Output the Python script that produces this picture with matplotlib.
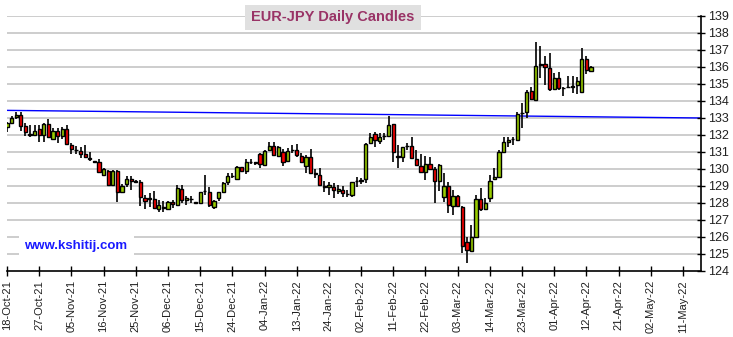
import matplotlib.pyplot as plt
import numpy as np

plt.rcParams['font.family'] = ['Liberation Sans', 'DejaVu Sans']

# daily EUR-JPY candles, one row per weekday from 18-Oct-21
opens = [132.49, 132.73, 133.04, 133.18, 132.53, 132.06, 131.98, 132.33, 132.02, 132.65,
         131.75, 132.26, 131.96, 132.33, 131.39, 131.14, 131.08, 130.86, 130.65, 130.45,
         130.39, 129.65, 129.90, 129.06, 129.88, 128.65, 129.10, 129.43, 129.29, 129.24,
         128.27, 128.27, 128.22, 127.65, 127.75, 127.63, 128.04, 127.88, 128.80, 128.18,
         128.25, 128.04, 127.98, 128.69, 128.67, 127.78, 128.31, 128.63, 129.22, 129.59,
         129.39, 130.10, 129.88, 130.41, 130.37, 130.86, 130.23, 131.10, 131.37, 130.74,
         131.02, 130.45, 131.14, 131.14, 130.77, 130.20, 130.69, 129.75, 129.65, 128.98,
         128.92, 128.96, 128.69, 128.77, 128.53, 128.47, 129.27, 129.31, 129.39, 131.55,
         132.04, 131.67, 131.92, 131.96, 132.63, 130.75, 130.69, 131.35, 131.35, 130.57,
         130.18, 129.80, 130.27, 130.02, 129.28, 128.35, 129.00, 127.80, 128.41, 127.76,
         125.69, 125.17, 126.02, 128.22, 127.63, 128.27, 129.39, 129.55, 131.02, 131.57,
         131.74, 131.71, 133.27, 133.33, 134.59, 134.06, 136.10, 136.20, 135.92, 134.69,
         135.33, 134.76, 134.84, 134.84, 134.94, 134.51, 136.45, 135.78]
highs = [132.79, 133.12, 133.37, 133.33, 132.73, 132.59, 132.59, 132.59, 132.69, 132.94,
         132.39, 132.39, 132.45, 132.59, 131.55, 131.35, 131.31, 131.41, 130.98, 130.49,
         130.57, 130.04, 129.94, 129.94, 129.94, 129.10, 129.59, 129.59, 129.35, 129.35,
         128.47, 128.57, 128.73, 128.18, 128.10, 128.10, 128.20, 129.06, 129.06, 128.41,
         128.41, 128.06, 128.67, 129.65, 128.96, 128.18, 128.67, 129.25, 129.75, 129.75,
         130.18, 130.14, 130.59, 130.57, 130.43, 130.92, 131.12, 131.57, 131.61, 131.35,
         131.18, 131.22, 131.41, 131.45, 130.92, 130.82, 131.16, 130.00, 130.04, 129.29,
         129.25, 129.20, 129.06, 128.98, 128.76, 129.25, 129.51, 129.45, 131.51, 132.10,
         132.20, 132.10, 132.10, 133.14, 132.65, 131.41, 131.31, 131.51, 131.90, 131.12,
         130.88, 130.76, 130.71, 130.14, 130.27, 129.75, 129.26, 128.77, 128.47, 127.82,
         126.02, 126.71, 128.47, 128.86, 128.27, 129.65, 130.04, 131.12, 131.86, 131.86,
         131.90, 133.37, 133.86, 134.65, 134.80, 137.49, 137.25, 136.65, 136.80, 135.67,
         135.73, 134.84, 135.47, 135.47, 135.41, 137.10, 136.65, 136.04]
lows = [132.20, 132.65, 132.92, 132.26, 131.96, 131.90, 131.94, 131.61, 131.61, 131.80,
        131.71, 131.51, 131.75, 131.40, 130.88, 130.88, 130.67, 130.65, 130.49, 130.37,
        129.75, 129.63, 129.00, 129.00, 128.04, 128.57, 128.92, 128.76, 129.20, 127.82,
        127.63, 127.75, 127.63, 127.49, 127.45, 127.60, 127.70, 127.84, 127.98, 127.86,
        127.98, 127.98, 127.92, 128.47, 127.78, 127.65, 128.14, 128.61, 129.06, 129.45,
        129.35, 129.84, 129.69, 130.27, 130.24, 130.04, 130.19, 131.06, 130.78, 130.70,
        130.20, 130.43, 130.96, 130.72, 130.33, 129.79, 129.72, 129.45, 129.02, 128.63,
        128.47, 128.27, 128.55, 128.37, 128.37, 128.37, 128.92, 129.10, 129.20, 131.51,
        131.27, 131.47, 131.71, 131.90, 130.43, 130.08, 130.43, 131.12, 130.57, 130.22,
        129.82, 129.35, 129.94, 127.98, 128.69, 128.08, 127.39, 127.30, 127.80, 125.08,
        124.45, 125.15, 126.00, 127.50, 127.57, 128.08, 129.35, 129.55, 130.92, 131.27,
        131.41, 131.71, 132.39, 132.98, 134.06, 134.04, 135.33, 134.94, 134.61, 134.65,
        134.65, 134.29, 134.74, 134.45, 134.41, 134.51, 135.59, 135.70]
closes = [132.69, 132.98, 133.18, 132.55, 132.20, 132.02, 132.26, 132.02, 132.65, 131.88,
          132.26, 131.96, 132.33, 131.45, 131.20, 131.10, 130.86, 130.69, 130.61, 130.43,
          129.81, 129.98, 129.04, 129.90, 128.63, 129.02, 129.43, 129.31, 129.22, 128.33,
          128.14, 128.25, 127.69, 127.88, 127.73, 128.04, 127.92, 128.86, 128.16, 128.27,
          128.23, 128.02, 128.63, 128.71, 127.88, 128.12, 128.63, 129.16, 129.59, 129.61,
          130.10, 129.88, 130.41, 130.43, 130.39, 130.27, 131.04, 131.33, 130.82, 131.27,
          130.43, 131.04, 131.12, 130.82, 130.43, 130.69, 129.77, 129.73, 129.04, 128.96,
          129.06, 128.75, 128.82, 128.57, 128.51, 129.22, 129.29, 129.33, 131.47, 131.86,
          131.71, 131.86, 131.94, 132.57, 131.02, 130.71, 131.27, 131.33, 130.63, 130.24,
          129.80, 130.27, 130.00, 129.28, 130.24, 129.00, 127.86, 128.41, 127.80, 125.47,
          125.22, 125.99, 128.22, 127.63, 127.98, 129.31, 129.53, 130.98, 131.57, 131.71,
          131.74, 133.22, 133.27, 134.55, 134.10, 136.06, 136.20, 135.98, 134.69, 135.33,
          134.74, 134.74, 134.84, 134.86, 135.20, 136.45, 135.82, 136.02]

# trend line (index, price) at both ends of the x range
trend_x = [-0.4, 151.0]
trend_y = [133.45, 133.0]

tick_labels = ['18-Oct-21', '27-Oct-21', '05-Nov-21', '16-Nov-21', '25-Nov-21', '06-Dec-21',
               '15-Dec-21', '24-Dec-21', '04-Jan-22', '13-Jan-22', '24-Jan-22', '02-Feb-22',
               '11-Feb-22', '22-Feb-22', '03-Mar-22', '14-Mar-22', '23-Mar-22', '01-Apr-22',
               '12-Apr-22', '21-Apr-22', '02-May-22', '11-May-22']

o = np.array(opens)
h = np.array(highs)
l = np.array(lows)
c = np.array(closes)
x = np.arange(len(o))

fig = plt.figure(figsize=(7.33, 3.37), dpi=100)
ax = fig.add_axes([6.5 / 733, 66 / 337, 694.5 / 733, 255 / 337])

# price grid
for p in range(125, 140):
    ax.axhline(p, color='#c0c0c0', lw=1.1, zorder=0)

ax.plot(trend_x, trend_y, color='#0000ff', lw=1.0, zorder=1)

up = c >= o
ax.vlines(x, l, h, color='black', lw=1.2, zorder=2)
ax.bar(x, np.abs(c - o), bottom=np.minimum(o, c), width=0.7,
       color=np.where(up, '#99cc00', '#ff0000'), edgecolor='black', lw=1.0, zorder=3)

ax.set_xlim(-0.1, 150.9)
ax.set_ylim(124, 139)

for s in ['top', 'left']:
    ax.spines[s].set_visible(False)
ax.spines['bottom'].set_linewidth(1.2)
ax.spines['right'].set_linewidth(1.2)

ax.yaxis.tick_right()
ax.set_yticks(range(124, 140))
ax.tick_params(axis='y', direction='inout', length=6, width=1, labelsize=9,
               labelcolor='#202020', pad=2)
ax.set_xticks(np.arange(len(tick_labels)) * 7)
ax.set_xticklabels(tick_labels, rotation=90)
ax.tick_params(axis='x', direction='inout', length=7, width=1, labelsize=8,
               labelcolor='#202020', pad=3)

fig.text(333 / 733, 1 - 17.5 / 337, 'EUR-JPY Daily Candles', ha='center', va='center',
         fontsize=10.5, fontweight='bold', color='#993366',
         bbox=dict(boxstyle='square,pad=0.4', fc='#e0e0e0', ec='none'))

fig.text(76 / 733, 1 - 246 / 337, 'www.kshitij.com', ha='center', va='center',
         fontsize=9.5, fontweight='bold', color='#1a1aff',
         bbox=dict(boxstyle='square,pad=0.45', fc='white', ec='none'))

fig.savefig('out.png', dpi=100)
